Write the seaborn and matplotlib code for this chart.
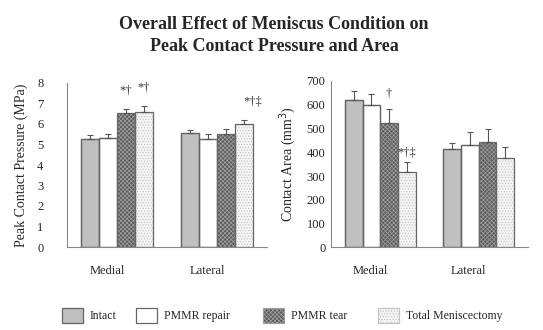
import numpy as np
import pandas as pd
import matplotlib
matplotlib.use("Agg")
import matplotlib.pyplot as plt
from matplotlib.patches import Rectangle, Patch
import seaborn as sns

regions = ["Medial", "Lateral"]
conditions = ["Intact", "PMMR repair", "PMMR tear", "Total Meniscectomy"]

# Peak contact pressure (MPa)
pressure_medial = [5.25, 5.30, 6.54, 6.57]
pressure_lateral = [5.58, 5.28, 5.50, 5.99]
pressure_err_medial = [0.20, 0.20, 0.21, 0.29]
pressure_err_lateral = [0.13, 0.22, 0.26, 0.21]

# Contact area (mm^3)
area_medial = [620, 600, 524, 315]
area_lateral = [412, 430, 444, 375]
area_err_medial = [39, 44, 58, 42]
area_err_lateral = [28, 57, 53, 46]

pressure_marks_medial = ["", "", "*\u2020", "*\u2020"]
pressure_marks_lateral = ["", "", "", "*\u2020\u2021"]
area_marks_medial = ["", "", "\u2020", "*\u2020\u2021"]
area_marks_lateral = ["", "", "", ""]

sns.set_style("white")
plt.rcParams["font.family"] = ["Liberation Serif", "DejaVu Serif"]
plt.rcParams["hatch.linewidth"] = 0.5

face = ["#c0c0c0", "#ffffff", "#5c5c5c", "#f4f4f4"]
hatchc = [None, None, "#a0a0a0", "#c4c4c4"]
hatches = [None, None, "xxxxxxxx", "......"]
outline = "#666666"


def make_df(med, lat, emed, elat):
    rows = []
    for i, c in enumerate(conditions):
        rows.append(dict(region="Medial", condition=c, value=med[i], err=emed[i]))
        rows.append(dict(region="Lateral", condition=c, value=lat[i], err=elat[i]))
    return pd.DataFrame(rows)


fig = plt.figure(figsize=(5.43, 3.30), dpi=100)
axL = fig.add_axes([67 / 543, (330 - 247) / 330, 200 / 543, 164 / 330])
axR = fig.add_axes([331 / 543, (330 - 247.3) / 330, 197 / 543, 166.3 / 330])


def draw(ax, df, marks, ylim, yticks, ylabel, mark_offsets, tickpad, label_x):
    sns.barplot(data=df, x="region", y="value", hue="condition",
                order=regions, hue_order=conditions, palette=face,
                saturation=1, errorbar=None, width=0.72, legend=False,
                ax=ax, zorder=2)
    bar_conts = list(ax.containers)
    for i, cont in enumerate(bar_conts):
        for j, bar in enumerate(cont):
            reg = regions[j]
            sub = df[(df.region == reg) & (df.condition == conditions[i])]
            err = float(sub.err.iloc[0])
            bar.set_facecolor(face[i])
            if hatches[i]:
                bar.set_hatch(hatches[i])
                bar.set_edgecolor(hatchc[i])
                bar.set_linewidth(0)
            else:
                bar.set_edgecolor(outline)
                bar.set_linewidth(0.9)
            ax.add_patch(Rectangle(bar.get_xy(), bar.get_width(), bar.get_height(),
                                   fill=False, ec=outline, lw=0.9, zorder=3))
            x = bar.get_x() + bar.get_width() / 2
            y = bar.get_height()
            ax.errorbar([x], [y], yerr=[[0], [err]], fmt="none", ecolor="#555555",
                        elinewidth=0.8, capsize=2.2, capthick=0.8, zorder=4)
            m = marks[j][i]
            if m:
                dx, dy = mark_offsets.get((j, i), (0, 9))
                ax.annotate(m, xy=(x, y + err), xytext=(dx, dy), textcoords="offset points",
                            ha="center", va="bottom", fontsize=9, color="#333333")
    ax.set_xlim(-0.5, 1.5)
    ax.set_ylim(*ylim)
    ax.set_yticks(yticks)
    ax.set_yticklabels([str(t) for t in yticks], fontsize=9)
    ax.set_xticks([-0.5, 0.5, 1.5])
    ax.set_xticklabels([])
    ax.set_xlabel("")
    ax.set_ylabel(ylabel, fontsize=10)
    ax.yaxis.set_label_coords(label_x, 0.5)
    for s in ["top", "right"]:
        ax.spines[s].set_visible(False)
    for s in ["left", "bottom"]:
        ax.spines[s].set_color("#888888")
        ax.spines[s].set_linewidth(0.8)
    ax.tick_params(axis="y", direction="out", length=3, width=0.7, color="#888888", pad=tickpad)
    ax.tick_params(axis="x", direction="out", length=4, width=0.7, color="#888888")
    for k, r in enumerate(regions):
        ax.text(k - 0.1, -0.145, r, transform=ax.get_xaxis_transform(), ha="center",
                va="center", fontsize=9)


dfL = make_df(pressure_medial, pressure_lateral, pressure_err_medial, pressure_err_lateral)
dfR = make_df(area_medial, area_lateral, area_err_medial, area_err_lateral)

draw(axL, dfL, [pressure_marks_medial, pressure_marks_lateral], (0, 8), list(range(0, 9)),
     "Peak Contact Pressure (MPa)", {(1, 3): (6, 9)}, 14, -0.195)
draw(axR, dfR, [area_marks_medial, area_marks_lateral], (0, 700), list(range(0, 701, 100)),
     "Contact Area (mm$^3$)", {(0, 2): (0, 7), (0, 3): (0, 3)}, 1, -0.1675)

fig.text(0.505, 0.893, "Overall Effect of Meniscus Condition on\nPeak Contact Pressure and Area",
         ha="center", va="center", fontsize=13, fontweight="bold", linespacing=1.4)

legend_x = [61.7, 135.7, 263, 378]
for i, c in enumerate(conditions):
    h = Patch(facecolor=face[i], edgecolor=(hatchc[i] or outline), hatch=hatches[i], lw=0.9)
    fig.legend(handles=[h], labels=[c], loc="center left",
               bbox_to_anchor=(legend_x[i] / 543, 14.5 / 330), frameon=False,
               handlelength=1.78, handleheight=1.6, handletextpad=0.6,
               borderpad=0, borderaxespad=0, fontsize=8.5)

fig.savefig("out.png", dpi=100)
